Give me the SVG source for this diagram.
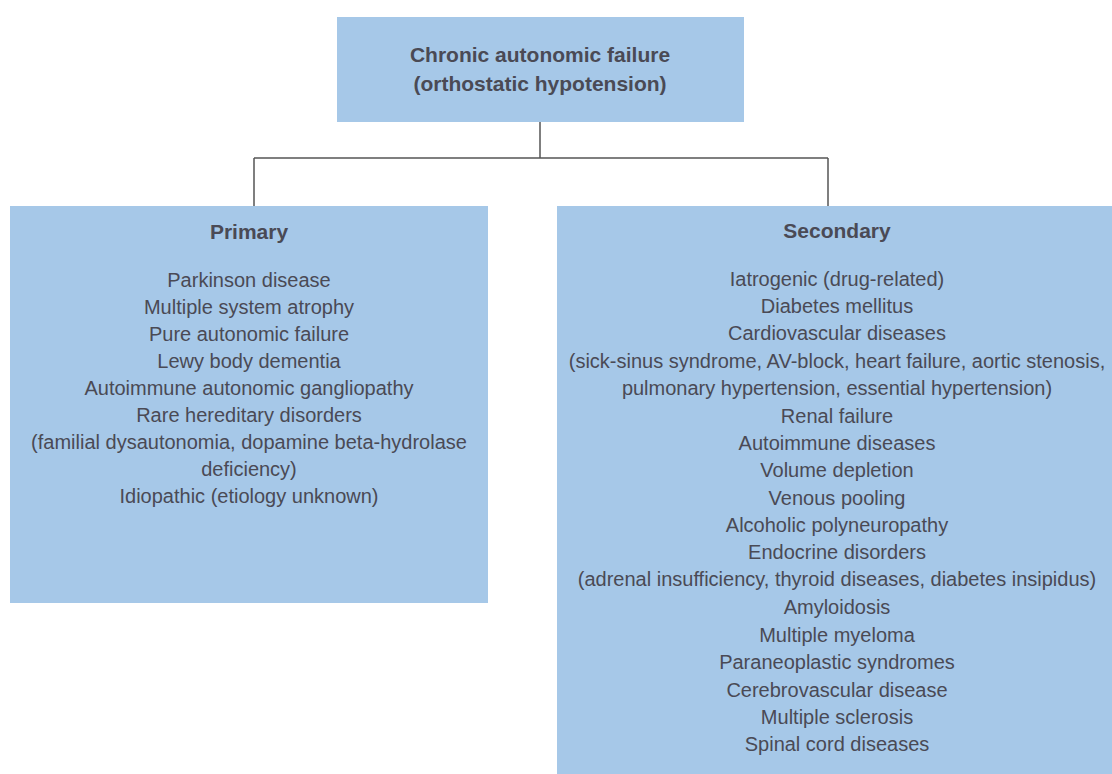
<svg xmlns="http://www.w3.org/2000/svg" width="1112" height="774" viewBox="0 0 1112 774">
<style>
.box{fill:#a6c8e8;}
.t{font-family:"Liberation Sans",Arial,sans-serif;font-size:20px;fill:#4a4a55;text-anchor:middle;}
.h{font-family:"Liberation Sans",Arial,sans-serif;font-size:21px;font-weight:bold;fill:#4a4a55;text-anchor:middle;}
.c{fill:none;stroke:#555;stroke-width:1.5;}
</style>
<rect width="1112" height="774" fill="#ffffff"/>
<g id="connectors">
<path class="c" d="M540 122 V158 M254 158 H828 M254 158 V206 M828 158 V206"/>
</g>
<g id="root">
<rect class="box" x="337" y="17" width="407" height="105"/>
<text class="h" x="540" y="62">Chronic autonomic failure</text>
<text class="h" x="540" y="91">(orthostatic hypotension)</text>
</g>
<g id="primary">
<rect class="box" x="10" y="206" width="478" height="397"/>
<text class="h" x="249" y="239">Primary</text>
<text class="t" x="249" y="287">Parkinson disease</text>
<text class="t" x="249" y="314">Multiple system atrophy</text>
<text class="t" x="249" y="341">Pure autonomic failure</text>
<text class="t" x="249" y="368">Lewy body dementia</text>
<text class="t" x="249" y="395">Autoimmune autonomic gangliopathy</text>
<text class="t" x="249" y="422">Rare hereditary disorders</text>
<text class="t" x="249" y="449">(familial dysautonomia, dopamine beta-hydrolase</text>
<text class="t" x="249" y="476">deficiency)</text>
<text class="t" x="249" y="503">Idiopathic (etiology unknown)</text>
</g>
<g id="secondary">
<rect class="box" x="557" y="206" width="555" height="568"/>
<text class="h" x="837" y="238">Secondary</text>
<text class="t" x="837" y="286">Iatrogenic (drug-related)</text>
<text class="t" x="837" y="313">Diabetes mellitus</text>
<text class="t" x="837" y="340">Cardiovascular diseases</text>
<text class="t" x="837" y="368">(sick-sinus syndrome, AV-block, heart failure, aortic stenosis,</text>
<text class="t" x="837" y="395">pulmonary hypertension, essential hypertension)</text>
<text class="t" x="837" y="423">Renal failure</text>
<text class="t" x="837" y="450">Autoimmune diseases</text>
<text class="t" x="837" y="477">Volume depletion</text>
<text class="t" x="837" y="505">Venous pooling</text>
<text class="t" x="837" y="532">Alcoholic polyneuropathy</text>
<text class="t" x="837" y="559">Endocrine disorders</text>
<text class="t" x="837" y="586">(adrenal insufficiency, thyroid diseases, diabetes insipidus)</text>
<text class="t" x="837" y="614">Amyloidosis</text>
<text class="t" x="837" y="642">Multiple myeloma</text>
<text class="t" x="837" y="669">Paraneoplastic syndromes</text>
<text class="t" x="837" y="697">Cerebrovascular disease</text>
<text class="t" x="837" y="724">Multiple sclerosis</text>
<text class="t" x="837" y="751">Spinal cord diseases</text>
</g>
</svg>
